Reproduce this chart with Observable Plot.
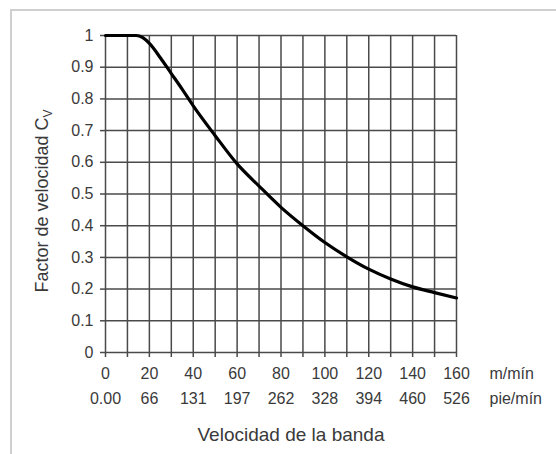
<!DOCTYPE html>
<html>
<head>
<meta charset="utf-8">
<script src="https://cdn.jsdelivr.net/npm/d3@7"></script>
<script src="https://cdn.jsdelivr.net/npm/@observablehq/plot@0.6"></script>
<style>
  html, body { margin: 0; padding: 0; background: #fff; }
  #wrap { position: relative; width: 556px; height: 454px; overflow: hidden; }
  #frame { position: absolute; left: 10px; top: 9px; width: 700px; height: 600px;
           border-left: 2px solid #cfcfcf; border-top: 2px solid #cfcfcf; }
  #chart { position: absolute; left: 0; top: 0; }
</style>
</head>
<body>
<div id="wrap"><div id="frame"></div><div id="chart"></div></div>
<script>
// Curve readings (velocidad m/min -> factor Cv)
const speed = [0, 10, 14, 17, 20, 25, 30, 35, 40, 50, 60, 70, 80, 90, 100, 110, 120, 130, 140, 150, 160];
const factor = [1, 1, 1, 0.993, 0.975, 0.93, 0.88, 0.83, 0.778, 0.684, 0.595, 0.525, 0.458, 0.40, 0.347, 0.302, 0.263, 0.232, 0.207, 0.189, 0.172];
const gridXValues = [0, 10, 20, 30, 40, 50, 60, 70, 80, 90, 100, 110, 120, 130, 140, 150, 160];
const yTicks = [0, 0.1, 0.2, 0.3, 0.4, 0.5, 0.6, 0.7, 0.8, 0.9, 1];
const yTickLabels = ["0", "0.1", "0.2", "0.3", "0.4", "0.5", "0.6", "0.7", "0.8", "0.9", "1"];
const mTicks = [0, 20, 40, 60, 80, 100, 120, 140, 160];
const pieLabels = ["0.00", "66", "131", "197", "262", "328", "394", "460", "526"];
const unitLabels = ["m/mín", "pie/mín"];
const xTitle = "Velocidad de la banda";
const yTitle = "Factor de velocidad C";
const ySub = "V";

const data = speed.map((s, i) => ({x: s, y: factor[i]}));
const gridCol = "#4a4a4a";
const txtCol = "#3a3a3a";

const plot = Plot.plot({
  width: 556,
  height: 454,
  marginLeft: 105,
  marginRight: 100,
  marginTop: 35,
  marginBottom: 102,
  style: {fontFamily: "'Liberation Sans', Arial, sans-serif", fontSize: "16px", color: txtCol, background: "transparent"},
  x: {domain: [0, 160]},
  y: {domain: [0, 1]},
  marks: [
    Plot.gridX(gridXValues, {stroke: gridCol, strokeOpacity: 1, strokeWidth: 1.5}),
    Plot.gridY(yTicks, {stroke: gridCol, strokeOpacity: 1, strokeWidth: 1.5}),
    Plot.axisY(yTicks, {tickSize: 5, tickPadding: 7, stroke: gridCol, strokeWidth: 1.5, fontSize: 16,
      tickFormat: (d) => yTickLabels[yTicks.indexOf(d)], label: null}),
    Plot.axisX(gridXValues, {tickSize: 5, stroke: gridCol, strokeWidth: 1.5, tickFormat: () => "", label: null}),
    Plot.axisX(mTicks, {tickSize: 0, tickPadding: 15, fontSize: 16, tickFormat: (d) => String(d), label: null}),
    Plot.axisX(mTicks, {tickSize: 0, tickPadding: 40, fontSize: 16, tickFormat: (d) => pieLabels[mTicks.indexOf(d)], label: null}),
    Plot.line(data, {x: "x", y: "y", curve: "monotone-x", stroke: "#000", strokeWidth: 3.2}),
    Plot.text([unitLabels[0]], {x: () => 160, y: () => 0, dx: 33, dy: 21, textAnchor: "start", fill: txtCol, fontSize: 16}),
    Plot.text([unitLabels[1]], {x: () => 160, y: () => 0, dx: 33, dy: 46, textAnchor: "start", fill: txtCol, fontSize: 16}),
    Plot.text([xTitle], {x: () => 80, y: () => 0, dx: 10, dy: 82, textAnchor: "middle", fill: txtCol, fontSize: 19})
  ]
});
document.getElementById("chart").appendChild(plot);

// rotated y title with subscript
const svg = d3.select(plot);
const t = svg.append("text")
  .attr("transform", "translate(48,201) rotate(-90)")
  .attr("text-anchor", "middle")
  .attr("fill", txtCol)
  .attr("font-size", 18)
  .attr("font-family", "'Liberation Sans', Arial, sans-serif");
t.append("tspan").text(yTitle);
t.append("tspan").attr("font-size", 12).attr("dy", 4).text(ySub);
</script>
</body>
</html>
